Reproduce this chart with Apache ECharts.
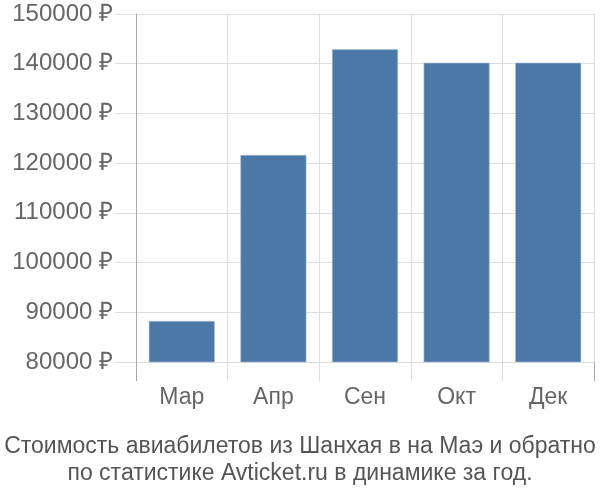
<!DOCTYPE html>
<html>
<head>
<meta charset="utf-8">
<script src="https://cdn.jsdelivr.net/npm/echarts@6/dist/echarts.min.js"></script>
<style>html,body{margin:0;padding:0;background:#fff}#c{width:600px;height:500px}</style>
</head>
<body>
<div id="c"></div>
<script>
const categories = ['Мар', 'Апр', 'Сен', 'Окт', 'Дек'];
const prices = [88250, 121650, 142900, 140200, 140200];
const yTicks = [80000, 90000, 100000, 110000, 120000, 130000, 140000, 150000];
const titleLines = ['Стоимость авиабилетов из Шанхая в на Маэ и обратно', 'по статистике Avticket.ru в динамике за год.'];

const chart = echarts.init(document.getElementById('c'), null, {renderer: 'canvas'});
const FONT = '"Liberation Sans", Arial, sans-serif';
chart.setOption({
  animation: false,
  title: {
    text: titleLines.join('\n'),
    left: 'center',
    top: 433,
    padding: 0,
    textStyle: {fontFamily: FONT, fontSize: 23, fontWeight: 'normal', color: '#555', lineHeight: 27}
  },
  grid: {left: 136, right: 6, top: 14, bottom: 138, containLabel: false},
  xAxis: [{
    type: 'category',
    data: categories,
    axisLine: {show: false},
    axisTick: {show: true, length: 19, lineStyle: {color: '#ddd'}},
    splitLine: {show: true, lineStyle: {color: '#ddd'}},
    axisLabel: {margin: 24, fontFamily: FONT, fontSize: 23, color: '#666'}
  }, {
    type: 'category',
    data: categories,
    position: 'bottom',
    axisLine: {show: false},
    axisTick: {show: true, length: 19, interval: (i) => i === 0, lineStyle: {color: '#aaa'}},
    splitLine: {show: false},
    axisLabel: {show: false}
  }],
  yAxis: {
    type: 'value',
    min: yTicks[0],
    max: yTicks[yTicks.length - 1],
    interval: 10000,
    axisLine: {show: true, lineStyle: {color: '#aaa'}},
    axisTick: {show: true, length: 21, lineStyle: {color: '#ddd'}},
    splitLine: {show: true, lineStyle: {color: '#ddd'}},
    axisLabel: {margin: 23, fontFamily: FONT, fontSize: 24, color: '#666', formatter: v => v + ' ₽'}
  },
  series: [{
    type: 'bar',
    data: prices,
    barWidth: 66,
    itemStyle: {color: '#4c78a8', borderColor: '#a9c0dc', borderWidth: 0.6}
  }]
});
</script>
</body>
</html>
